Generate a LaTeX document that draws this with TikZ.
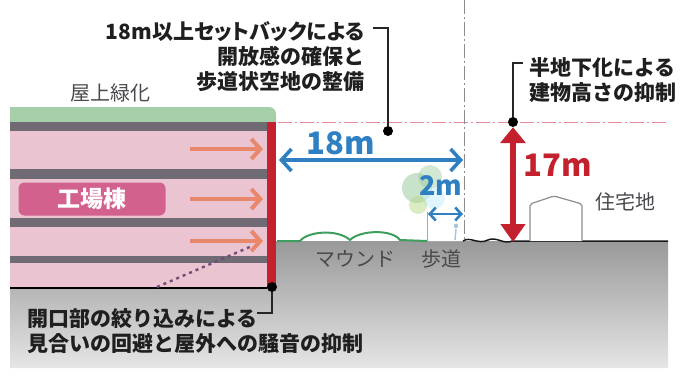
\documentclass[tikz,border=0pt]{standalone}
\usepackage{fontspec}
\setmainfont{Noto Sans CJK JP}
\newfontfamily\proportional{Noto Sans CJK JP}[RawFeature=+palt]
\usepackage{xcolor}
\usepackage{tikz}
\usetikzlibrary{arrows.meta,positioning,calc}

\definecolor{wallred}{HTML}{C3212D}
\definecolor{dimblue}{HTML}{2F80C2}
\definecolor{floorpink}{HTML}{EBC4D1}
\definecolor{slabgrey}{HTML}{6F6A73}
\definecolor{roofgreen}{HTML}{A5CFA8}
\definecolor{tagpink}{HTML}{D3618D}
\definecolor{windorange}{HTML}{E9876C}
\definecolor{moundgreen}{HTML}{3E9E5E}
\definecolor{textgrey}{HTML}{4A4A4E}
\definecolor{guidered}{HTML}{E58A96}
\definecolor{sightpurple}{HTML}{6E4E74}
\definecolor{leafgreen}{HTML}{9CCB9E}

\tikzset{
  callout/.style={
    inner sep=0pt,
    text=black!88,
    font=\bfseries\fontsize{21}{25}\selectfont
  }
}
\tikzset{
  place label/.style={
    inner sep=0pt,
    text=textgrey,
    font=\fontsize{20}{24}\selectfont
  }
}
\tikzset{
  factory tag/.style={
    rectangle,
    rounded corners=6pt,
    fill=tagpink,
    text=white,
    minimum width=147pt,
    minimum height=33pt,
    font=\bfseries\fontsize{23}{26}\selectfont
  }
}
\tikzset{
  size label/.style={
    inner sep=0pt,
    font=\bfseries\fontsize{31}{34}\selectfont
  }
}
\tikzset{
  leader/.style={
    draw=black!85,
    line width=1.5pt
  }
}
\tikzset{
  leader dot/.style={
    circle,
    fill=black,
    inner sep=0pt,
    minimum size=10pt
  }
}
\tikzset{
  setback arrow/.style={
    {Straight Barb[length=10pt,width=22pt]}-{Straight Barb[length=10pt,width=22pt]},
    draw=dimblue,
    line width=3.6pt
  }
}
\tikzset{
  walk arrow/.style={
    {Straight Barb[length=6pt,width=13pt]}-{Straight Barb[length=6pt,width=13pt]},
    draw=dimblue,
    line width=2.6pt
  }
}
\tikzset{
  height arrow/.style={
    {Triangle[length=16pt,width=25pt]}-{Triangle[length=18pt,width=24pt]},
    draw=wallred,
    line width=5.5pt
  }
}
\tikzset{
  wind arrow/.style={
    -{Straight Barb[length=9pt,width=20pt]},
    draw=windorange,
    line width=4pt
  }
}

\begin{document}
\begin{tikzpicture}[x=1pt,y=-1pt]

    \useasboundingbox (0,0) rectangle (680,375);

    % ------------------------------------------------------------
    % Ground
    % ------------------------------------------------------------

    \shade[top color=black!40, bottom color=black!10]
      (10,289) -- (276,289) -- (276,241) -- (668,241)
      -- (668,368) -- (10,368) -- cycle;

    % guide lines
    \draw[guidered, line width=0.9pt, dash pattern=on 14pt off 3pt on 2pt off 3pt]
      (278,122) -- (668,122);
    \draw[black!45, line width=0.9pt, dash pattern=on 14pt off 3pt on 2pt off 3pt]
      (464,0) -- (464,241);

    % mound, walk and road surface
    \draw[moundgreen, line width=2pt]
      (277,241) -- (300,241)
      .. controls (308,231) and (338,229) .. (350,240)
      .. controls (360,230) and (392,229) .. (400,240)
      -- (427,241);
    \draw[black!35, line width=1pt] (427,241) -- (463,241);
    \draw[black!90, line width=1.5pt]
      (463,241) .. controls (470,236) and (478,245) .. (488,240)
      .. controls (496,236) and (504,245) .. (512,241)
      -- (668,241);

    % ------------------------------------------------------------
    % Factory building
    % ------------------------------------------------------------

    \fill[roofgreen] (10,107) rectangle (262,122);
    \fill[roofgreen, rounded corners=7pt] (250,107) rectangle (276,128);

    \fill[floorpink] (10,131) rectangle (268,169);
    \fill[floorpink] (10,179) rectangle (268,218);
    \fill[floorpink] (10,227) rectangle (268,256);
    \fill[floorpink] (10,263) rectangle (268,288);

    \fill[slabgrey] (10,122) rectangle (268,131);
    \fill[slabgrey] (10,169) rectangle (268,179);
    \fill[slabgrey] (10,218) rectangle (268,227);
    \fill[slabgrey] (10,256) rectangle (268,263);

    \draw[black, line width=1.6pt] (10,288) -- (272,288);
    \fill[wallred] (267,122) rectangle (276,289);

    \draw[wind arrow] (190,149) -- (263,149);
    \draw[wind arrow] (190,199) -- (263,199);
    \draw[wind arrow] (190,241) -- (263,241);

    \draw[sightpurple, line width=2.4pt,
          dash pattern=on 3pt off 4pt]
      (157,287) -- (252,246);

    % ------------------------------------------------------------
    % Tree, walker, house
    % ------------------------------------------------------------

    \fill[leafgreen, opacity=0.55] (417,188) circle (15);
    \fill[leafgreen, opacity=0.45] (430,177) circle (12);
    \fill[cyan!20, opacity=0.6] (434,198) circle (11);
    \fill[leafgreen!80!yellow, opacity=0.45] (418,205) circle (9);
    \draw[black!35, line width=0.8pt] (427,212) -- (427,241);

    \fill[dimblue!45] (456,226) circle (2.2);
    \draw[dimblue!45, line width=1.4pt] (456,229) -- (455,240);

    \draw[black!45, line width=1.2pt, fill=white, rounded corners=2pt]
      (530,241) -- (530,204) -- (554,196) -- (582,204) -- (582,241);

    % ------------------------------------------------------------
    % Labels
    % ------------------------------------------------------------

    \node[place label] (roof label) at (110,93) {屋上緑化};
    \node[factory tag] (factory) at (92,199) {工場棟};
    \node[place label] (mound label) at (355,259) {マウンド};
    \node[place label] (walk label) at (441,259) {歩道};
    \node[place label] (housing label) at (625,202) {住宅地};

    \node[size label, text=dimblue] (setback size) at (341,143) {18m};
    \node[size label, text=dimblue, font=\bfseries\fontsize{27}{30}\selectfont]
      (walk size) at (441,186) {2m};
    \node[size label, text=wallred] (height size) at (558,165) {17m};

    \node[callout, align=right, anchor=north east] (setback)
      at (365,21)
      {{\proportional 18m以上セットバックによる}\\開放感の確保と\\歩道状空地の整備};

    \node[callout, align=left, anchor=north west] (half basement)
      at (529,57)
      {半地下化による\\建物高さの抑制};

    \node[callout, align=left, anchor=north west] (opening)
      at (27,308)
      {開口部の絞り込みによる\\見合いの回避と屋外への騒音の抑制};

    % ------------------------------------------------------------
    % Dots and leaders
    % ------------------------------------------------------------

    \node[leader dot] (setback dot) at (388,131) {};
    \node[leader dot] (basement dot) at (513,122) {};
    \node[leader dot] (opening dot) at (272,287) {};

    \coordinate (setback end) at (373,28);
    \coordinate (basement end) at (523,63);
    \coordinate (opening end) at (257,313);

    \draw[leader] (setback end) -| (setback dot);
    \draw[leader] (basement dot) |- (basement end);
    \draw[leader] (opening dot) |- (opening end);

    % ------------------------------------------------------------
    % Dimensions
    % ------------------------------------------------------------

    \coordinate (wall face) at (279,160);
    \coordinate (walk edge) at (463,160);
    \coordinate (walk start) at (428,214);
    \coordinate (walk end) at (463,214);
    \coordinate (house ground) at (513,242);

    \draw[setback arrow] (wall face) -- (walk edge);
    \draw[walk arrow] (walk start) -- (walk end);
    \draw[height arrow] (basement dot) -- (house ground);

    \end{tikzpicture}
\end{document}
